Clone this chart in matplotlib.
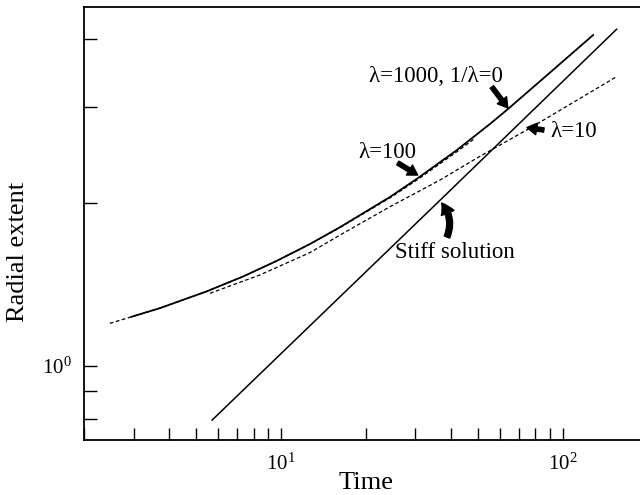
import numpy as np
import matplotlib
matplotlib.use("Agg")
import matplotlib.pyplot as plt
from matplotlib.ticker import LogLocator, NullFormatter, LogFormatterMathtext
from matplotlib.patches import FancyArrowPatch

plt.rcParams["font.family"] = ["Liberation Serif", "DejaVu Serif"]
plt.rcParams["mathtext.fontset"] = "stix"

# lambda = 1000 (same as 1/lambda = 0), solid curve
t_1000 = [2.95, 3.72, 5.45, 7.35, 9.65, 12.7, 16.2, 24.4, 30.7, 42.0, 55.2, 64.1, 90.2, 128.4]
r_1000 = [1.232, 1.278, 1.372, 1.462, 1.561, 1.678, 1.801, 2.048, 2.220, 2.495, 2.790, 2.976, 3.470, 4.07]

# lambda = 100, dashed, runs almost on top of the solid one
t_100 = [2.47, 2.95, 3.72, 5.45, 7.35, 9.65, 12.7, 16.2, 24.4, 30.7, 42.0, 48.2]
r_100 = [1.198, 1.232, 1.278, 1.372, 1.462, 1.561, 1.678, 1.798, 2.040, 2.208, 2.478, 2.612]

# lambda = 10, dashed
t_10 = [5.60, 8.42, 12.7, 16.2, 24.4, 36.7, 49.5, 76.5, 155.5]
r_10 = [1.361, 1.471, 1.618, 1.742, 1.965, 2.200, 2.413, 2.741, 3.411]

# stiff solution (power law, straight on log-log)
t_stiff = [5.7, 36.2, 155.5]
r_stiff = [0.795, 2.005, 4.17]

fig = plt.figure(figsize=(6.4, 4.95), dpi=100)
ax = fig.add_axes([84 / 640, 55 / 495, 563.4 / 640, 433 / 495])

ax.plot(t_100, r_100, color="black", lw=0.9, linestyle=(0, (3, 2)))
ax.plot(t_10, r_10, color="black", lw=0.9, linestyle=(0, (3, 2)))
ax.plot(t_1000, r_1000, color="black", lw=1.3)
ax.plot(t_stiff, r_stiff, color="black", lw=1.1)

ax.set_xscale("log")
ax.set_yscale("log")
ax.set_xlim(2, 200)
ax.set_ylim(0.7306, 4.583)

for axis in (ax.xaxis, ax.yaxis):
    axis.set_major_locator(LogLocator(base=10))
    axis.set_minor_locator(LogLocator(base=10, subs=np.arange(2, 10)))
    axis.set_major_formatter(LogFormatterMathtext())
    axis.set_minor_formatter(NullFormatter())

ax.tick_params(which="both", direction="in", length=9, width=1.0,
               top=False, right=False, labelsize=15)
ax.tick_params(axis="x", which="both", pad=10)
ax.tick_params(axis="y", which="both", pad=9)

ax.spines["right"].set_visible(False)
for s in ("left", "bottom", "top"):
    ax.spines[s].set_linewidth(1.3)

ax.set_xlabel("Time", fontsize=19, labelpad=-2)
ax.set_ylabel("Radial extent", fontsize=19)
ax.yaxis.set_label_coords(-0.098, 0.434)

# labels with arrows
akw = dict(arrowstyle="simple,head_length=0.5,head_width=0.6,tail_width=0.22",
           color="black", mutation_scale=14, shrinkA=0, shrinkB=0)
ax.text(35.4, 3.41, "λ=1000, 1/λ=0", fontsize=16.5, ha="center", va="center")
ax.add_patch(FancyArrowPatch((56.1, 3.265), (63.9, 2.987), **akw))

ax.text(23.8, 2.468, "λ=100", fontsize=16.5, ha="center", va="center")
ax.add_patch(FancyArrowPatch((26.0, 2.365), (30.6, 2.247), **akw))

ax.text(109.7, 2.703, "λ=10", fontsize=16.5, ha="center", va="center")
ax.add_patch(FancyArrowPatch((85.8, 2.72), (74.7, 2.749), **akw))

ax.text(41.5, 1.615, "Stiff solution", fontsize=16.5, ha="center", va="center")
ax.add_patch(FancyArrowPatch((38.85, 1.728), (37.2, 1.996),
                             connectionstyle="arc3,rad=0.3",
                             arrowstyle="simple,head_length=0.6,head_width=0.7,tail_width=0.3",
                             color="black", mutation_scale=14, shrinkA=0, shrinkB=0))

fig.savefig("out.png", dpi=100)
